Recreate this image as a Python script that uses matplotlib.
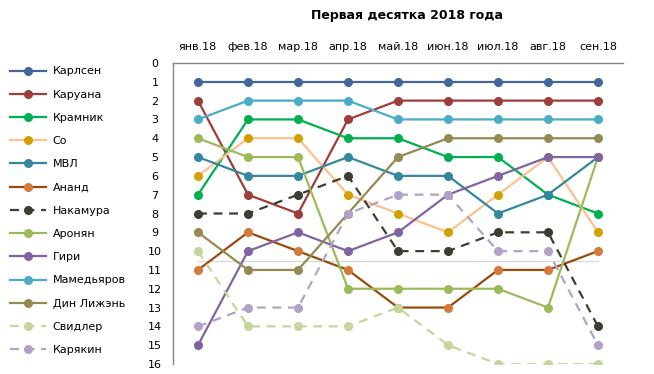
import matplotlib.pyplot as plt
from matplotlib.lines import Line2D

months = ["янв.18", "фев.18", "мар.18", "апр.18", "май.18", "июн.18", "июл.18", "авг.18", "сен.18"]

players = ["Карлсен", "Каруана", "Крамник", "Со", "МВЛ", "Ананд", "Накамура",
           "Аронян", "Гири", "Мамедьяров", "Дин Лижэнь", "Свидлер", "Карякин"]

karlsen = [1, 1, 1, 1, 1, 1, 1, 1, 1]
caruana = [2, 7, 8, 3, 2, 2, 2, 2, 2]
kramnik = [7, 3, 3, 4, 4, 5, 5, 7, 8]
so = [6, 4, 4, 7, 8, 9, 7, 5, 9]
mvl = [5, 6, 6, 5, 6, 6, 8, 7, 5]
anand = [11, 9, 10, 11, 13, 13, 11, 11, 10]
nakamura = [8, 8, 7, 6, 10, 10, 9, 9, 14]
aronian = [4, 5, 5, 12, 12, 12, 12, 13, 5]
giri = [15, 10, 9, 10, 9, 7, 6, 5, 5]
mamedyarov = [3, 2, 2, 2, 3, 3, 3, 3, 3]
ding = [9, 11, 11, 8, 5, 4, 4, 4, 4]
svidler = [10, 14, 14, 14, 13, 15, 16, 16, 16]
karjakin = [14, 13, 13, 8, 7, 7, 10, 10, 15]

series = [karlsen, caruana, kramnik, so, mvl, anand, nakamura,
          aronian, giri, mamedyarov, ding, svidler, karjakin]

# цвет линии, цвет маркера, пунктир
styles = [
    ("#43679b", "#43679b", False),
    ("#9e3d3a", "#9e3d3a", False),
    ("#00b050", "#00b050", False),
    ("#fdc08f", "#d4a000", False),
    ("#35879d", "#35879d", False),
    ("#9a4a0a", "#d47a3c", False),
    ("#3d3d33", "#3d3d33", True),
    ("#9bbb59", "#9bbb59", False),
    ("#8064a2", "#8064a2", False),
    ("#4bacc6", "#4bacc6", False),
    ("#948a54", "#948a54", False),
    ("#c3d69b", "#c3d69b", True),
    ("#b3a2c7", "#b3a2c7", True),
]

fig = plt.figure(figsize=(6.54, 3.74), dpi=100)
ax = fig.add_axes([173 / 654, 1 - 364 / 374, 450 / 654, 301 / 374])

x = list(range(len(months)))
ax.plot([0, 8], [10.5, 10.5], color="#d9d9d9", lw=1, zorder=1)

handles = []
for i, (name, vals) in enumerate(zip(players, series)):
    lc, mc, dashed = styles[i]
    ls = (0, (4, 3)) if dashed else "-"
    ax.plot(x, vals, color=lc, lw=1.6, ls=ls, zorder=2 + i)
    ax.plot(x, vals, ls="none", marker="o", ms=5.5, color=mc, zorder=2 + i)
    handles.append(Line2D([], [], color=lc, lw=1.6, ls=ls, marker="o", ms=5.5,
                          markerfacecolor=mc, markeredgecolor=mc, label=name))

ax.set_xlim(-0.5, 8.5)
ax.set_ylim(16, 0)
ax.set_yticks(range(0, 17))
ax.set_xticks(x)
ax.set_xticklabels(months)
ax.xaxis.tick_top()
ax.tick_params(axis="both", length=0, labelsize=8, colors="black")
ax.tick_params(axis="x", pad=8)
ax.tick_params(axis="y", pad=13)
for lab in ax.get_yticklabels():
    lab.set_horizontalalignment("center")

for s in ["right", "bottom"]:
    ax.spines[s].set_visible(False)
for s in ["top", "left"]:
    ax.spines[s].set_color("#868686")
    ax.spines[s].set_linewidth(1)

fig.text(407 / 654, 1 - 15 / 374, "Первая десятка 2018 года", ha="center", va="center",
         fontsize=9, fontweight="bold")

fig.legend(handles=handles, loc="upper left", bbox_to_anchor=(6 / 654, 1 - 62 / 374),
           frameon=False, fontsize=8, handlelength=3.2, handletextpad=0.6,
           labelspacing=1.19, borderaxespad=0)

fig.savefig("out.png", dpi=100)
